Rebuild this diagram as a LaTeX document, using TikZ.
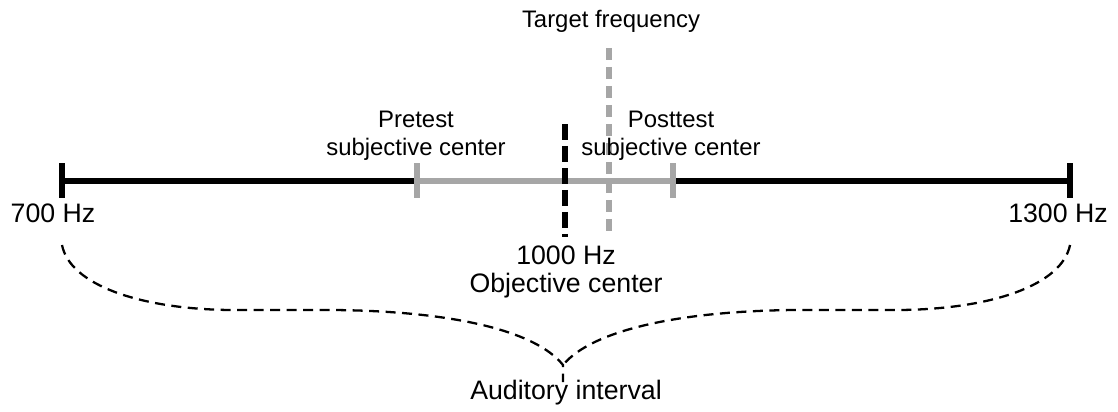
\documentclass[tikz,border=0pt]{standalone}
\usepackage{fontspec}
\setmainfont{Liberation Sans}
\definecolor{rangegray}{RGB}{166,166,166}
\newcommand{\upperlabel}{\fontsize{13.6}{15.4}\selectfont}
\newcommand{\lowerlabel}{\fontsize{15.2}{15.4}\selectfont}

\begin{document}
\begin{tikzpicture}[x=0.02cm, y=-0.02cm, every node/.style={align=center, font=\lowerlabel, inner sep=0pt, anchor=base},
        upper/.style={font=\upperlabel},
        mainLine/.style={line width=3pt},
        endTick/.style={line width=2.9pt},
        rangeLine/.style={rangegray, line width=3pt},
        objLine/.style={line width=3.1pt, dash pattern=on 0.32cm off 0.12cm},
        targetLine/.style={rangegray, line width=3pt, dash pattern=on 0.24cm off 0.14cm},
        braceLine/.style={line width=1.3pt, dash pattern=on 0.2cm off 0.13cm}]

        \useasboundingbox (0,0) rectangle (1118,412);

        % Points on the scale
        \coordinate (lowEnd) at (62,181);
        \coordinate (highEnd) at (1070,181);
        \coordinate (preCenter) at (417,181);
        \coordinate (postCenter) at (673,181);
        \coordinate (objTop) at (565,124);
        \coordinate (objBottom) at (565,237);
        \coordinate (targetTop) at (609,48);
        \coordinate (targetBottom) at (609,234);
        \coordinate (braceLeft) at (62,245);
        \coordinate (braceRight) at (1070,245);
        \coordinate (braceTip) at (563,365);
        \coordinate (braceFoot) at (563,382);

        % Scale
        \draw[mainLine] (lowEnd) -- (highEnd);
        \draw[endTick] (lowEnd) +(0,-18) -- +(0,17);
        \draw[endTick] (highEnd) +(0,-18) -- +(0,17);
        \draw[rangeLine] (preCenter) -- (postCenter);
        \draw[rangeLine] (preCenter) +(0,-18) -- +(0,17);
        \draw[rangeLine] (postCenter) +(0,-18) -- +(0,17);

        % Centers
        \draw[targetLine] (targetTop) -- (targetBottom);
        \draw[objLine] (objTop) -- (objBottom);

        % Labels
        \node (lowLabel) at (53,222) {700 Hz};
        \node (highLabel) at (1058,222) {1300 Hz};
        \node (objLabel) at (566,292) {1000 Hz\\Objective center};
        \node[upper] (preLabel) at (416,155) {Pretest\\subjective center};
        \node[upper] (postLabel) at (671,155) {Posttest\\subjective center};
        \node[upper] (targetLabel) at (611,28) {Target frequency};
        \node (intervalLabel) at (566,399) {Auditory interval};

        % Brace
        \draw[braceLine] (braceLeft) .. controls (70,285) and (140,309) .. (230,310) -- (333,310)
            .. controls (450,311) and (535,330) .. (braceTip) -- (braceFoot);
        \draw[braceLine] (braceRight) .. controls (1062,285) and (992,309) .. (900,310) -- (795,310)
            .. controls (680,311) and (592,330) .. (braceTip);

    \end{tikzpicture}
\end{document}
